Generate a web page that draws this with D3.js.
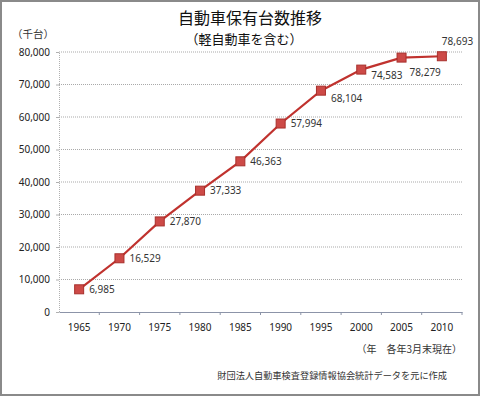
<!DOCTYPE html>
<html>
<head>
<meta charset="utf-8">
<script src="https://cdn.jsdelivr.net/npm/d3@7"></script>
<style>
  body { margin: 0; background: #fff; }
  text { font-family: "Noto Sans CJK JP", "Noto Sans", sans-serif; }
</style>
</head>
<body>
<div id="container"></div>
<script>
// data (thousand vehicles, as of March each year)
const years = ["1965", "1970", "1975", "1980", "1985", "1990", "1995", "2000", "2005", "2010"];
const vehicles = [6985, 16529, 27870, 37333, 46363, 57994, 68104, 74583, 78279, 78693];
const yTicks = [0, 10000, 20000, 30000, 40000, 50000, 60000, 70000, 80000];
// where each value label sits relative to its marker
const labelDx = [10, 10, 10, 10, 10, 10, 10, 10, 8, 0];
const labelDy = [0, 0, 0, 0, 0, 0, 8, 6, 15, -15];

const W = 480, H = 396;
const plotL = 59, plotR = 462, plotT = 52, plotB = 312;
const numFont = "'Noto Sans', sans-serif";

const svg = d3.select("#container")
  .append("svg")
  .attr("width", W)
  .attr("height", H);

svg.append("rect")
  .attr("x", 1).attr("y", 1)
  .attr("width", W - 2).attr("height", H - 2)
  .attr("fill", "#fff")
  .attr("stroke", "#8a8a8a")
  .attr("stroke-width", 2);

const x = d3.scaleBand().domain(years).range([plotL, plotR]);
const y = d3.scaleLinear().domain([0, 80000]).range([plotB, plotT]);

// gridlines
svg.append("g").selectAll("line")
  .data(yTicks.slice(1))
  .join("line")
  .attr("x1", plotL).attr("x2", plotR)
  .attr("y1", d => y(d)).attr("y2", d => y(d))
  .attr("stroke", "#a9a9a9")
  .attr("stroke-dasharray", "1,1");

// y axis
const yAxis = svg.append("g")
  .attr("transform", `translate(${plotL},0)`)
  .call(d3.axisLeft(y).tickValues(yTicks).tickFormat(d3.format(",")).tickSize(3).tickPadding(6));
yAxis.select(".domain").attr("stroke", "#b0b0b0").attr("stroke-dasharray", "1,1");
yAxis.selectAll(".tick line").attr("stroke", "#b0b0b0");
yAxis.selectAll("text")
  .attr("fill", "#222")
  .style("font-family", numFont)
  .attr("font-size", 10);

// x axis
const xAxis = svg.append("g")
  .attr("transform", `translate(0,${plotB})`)
  .call(d3.axisBottom(x).tickSize(0).tickPadding(12));
xAxis.select(".domain").attr("stroke", "#8c94a8");
xAxis.selectAll("text")
  .attr("fill", "#222")
  .style("font-family", numFont)
  .attr("font-size", 10);
// tick marks between the categories
xAxis.selectAll(".sep")
  .data(years)
  .join("line")
  .attr("class", "sep")
  .attr("x1", d => x(d) + x.bandwidth())
  .attr("x2", d => x(d) + x.bandwidth())
  .attr("y1", 0).attr("y2", 3)
  .attr("stroke", "#8c94a8");

// line
const line = d3.line()
  .x((d, i) => x(years[i]) + x.bandwidth() / 2)
  .y(d => y(d));

svg.append("path")
  .datum(vehicles)
  .attr("d", line)
  .attr("fill", "none")
  .attr("stroke", "#c0322e")
  .attr("stroke-width", 2.2);

svg.append("g").selectAll("rect")
  .data(vehicles)
  .join("rect")
  .attr("x", (d, i) => x(years[i]) + x.bandwidth() / 2 - 4.5)
  .attr("y", d => y(d) - 4.5)
  .attr("width", 9).attr("height", 9)
  .attr("fill", "#cd4a47")
  .attr("stroke", "#a8302c")
  .attr("stroke-width", 1);

svg.append("g").selectAll("text")
  .data(vehicles)
  .join("text")
  .attr("x", (d, i) => x(years[i]) + x.bandwidth() / 2 + labelDx[i])
  .attr("y", (d, i) => y(d) + labelDy[i])
  .attr("dy", "0.35em")
  .attr("font-size", 10)
  .attr("fill", "#333")
  .style("font-family", numFont)
  .text(d => d3.format(",")(d));

// titles and notes
svg.append("text")
  .attr("x", 250).attr("y", 24)
  .attr("text-anchor", "middle")
  .attr("font-size", 16)
  .attr("fill", "#111")
  .text("自動車保有台数推移");

svg.append("text")
  .attr("x", 244).attr("y", 44)
  .attr("text-anchor", "middle")
  .attr("font-size", 13)
  .attr("fill", "#111")
  .text("（軽自動車を含む）");

svg.append("text")
  .attr("x", 12).attr("y", 38)
  .attr("font-size", 10.5)
  .attr("fill", "#333")
  .text("（千台）");

svg.append("text")
  .attr("x", 462).attr("y", 353)
  .attr("text-anchor", "end")
  .attr("font-size", 10)
  .attr("fill", "#333")
  .text("（年　各年3月末現在）");

svg.append("text")
  .attr("x", 447).attr("y", 379)
  .attr("text-anchor", "end")
  .attr("font-size", 9.2)
  .attr("fill", "#333")
  .text("財団法人自動車検査登録情報協会統計データを元に作成");
</script>
</body>
</html>
